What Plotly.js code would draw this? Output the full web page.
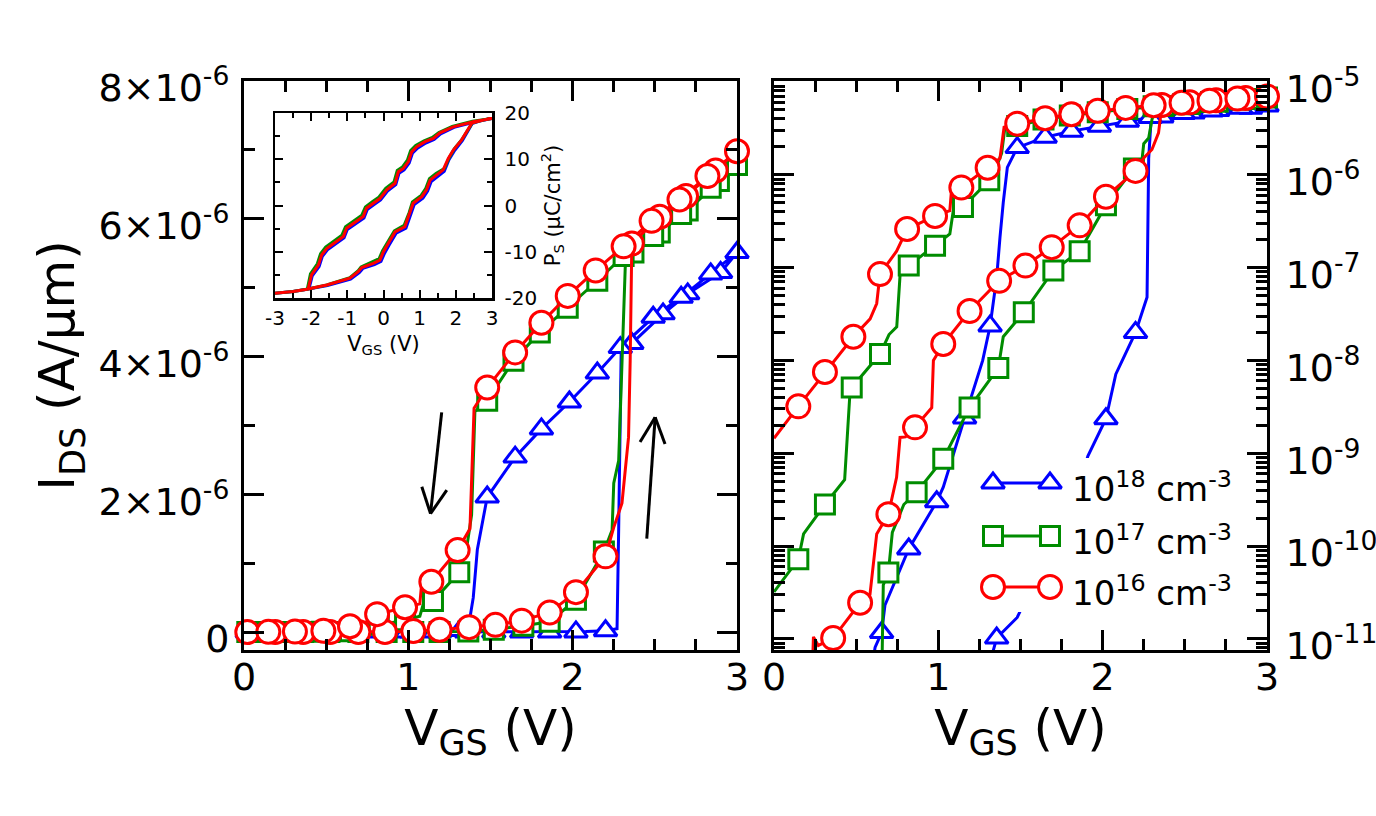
<!DOCTYPE html>
<html><head><meta charset="utf-8">
<script src="https://cdn.plot.ly/plotly-3.0.1.min.js"></script>
<style>html,body{margin:0;padding:0;background:#fff;}#chart{width:1376px;height:816px;}</style>
</head><body><div id="chart"></div>
<script>
// ---------- DATA (I_DS in A/um vs V_GS in V; each curve = forward sweep 0->3 V then backward 3->0 V) ----------
const seriesNames = ['10<sup>18</sup> cm<sup>-3</sup>', '10<sup>17</sup> cm<sup>-3</sup>', '10<sup>16</sup> cm<sup>-3</sup>'];

// 10^18 cm^-3 (blue)
const blueCurveX = [0.00,0.02,0.19,0.36,0.52,0.69,0.86,1.02,1.19,1.33,1.355,1.48,1.52,1.69,1.86,1.91,2.02,2.08,2.20,2.27,2.28,2.295,2.36,2.55,2.70,2.90,3.00,
  2.84,2.66,2.49,2.29,2.15,1.98,1.81,1.65,1.48,1.42,1.395,1.375,1.355,1.315,1.27,1.16,1.03,0.99,0.82,0.675,0.655,0.615,0.58,0.48,0.31,0.148,0.00];
const blueCurveY = [1e-13,1e-13,1e-13,1e-13,1e-13,1e-13,1e-13,1e-13,2e-13,7e-12,1.02e-11,1.7e-11,2.4e-11,1.0e-10,4.8e-10,9.3e-10,2.35e-9,7.1e-9,2.0e-8,4.8e-8,1.5e-6,4.05e-6,4.19e-6,4.62e-6,4.91e-6,5.22e-6,5.51e-6,
  5.20e-6,4.86e-6,4.57e-6,4.13e-6,3.76e-6,3.34e-6,2.95e-6,2.54e-6,1.96e-6,1.2e-6,5.0e-7,2.1e-7,7.8e-8,2.35e-8,1.0e-8,2.4e-9,4.3e-10,3.0e-10,9.3e-11,2.3e-11,1.17e-11,8.1e-12,3e-12,1e-12,5e-13,3e-13,2e-13];
const blueMarkX = [0.02,0.19,0.36,0.52,0.69,0.86,1.02,1.19,1.355,1.52,1.69,1.86,2.02,2.20,2.36,2.55,2.70,2.90,3.00,
  2.84,2.66,2.49,2.29,2.15,1.98,1.81,1.65,1.48,1.315,1.16,0.99,0.82,0.655,0.48,0.31,0.148];
const blueMarkY = [1e-13,1e-13,1e-13,1e-13,1e-13,1e-13,1e-13,2e-13,1.02e-11,2.4e-11,1.0e-10,4.8e-10,2.35e-9,2.0e-8,4.19e-6,4.62e-6,4.91e-6,5.22e-6,5.51e-6,
  5.20e-6,4.86e-6,4.57e-6,4.13e-6,3.76e-6,3.34e-6,2.95e-6,2.54e-6,1.96e-6,2.35e-8,2.4e-9,3.0e-10,9.3e-11,1.17e-11,1e-12,5e-13,3e-13];

// 10^17 cm^-3 (green)
const greenCurveX = [0.00,0.02,0.19,0.36,0.52,0.655,0.665,0.696,0.72,0.79,0.868,1.03,1.19,1.365,1.395,1.52,1.70,1.86,2.02,2.19,2.24,2.25,2.28,2.30,2.32,2.37,2.53,2.70,2.89,3.00,
  2.84,2.66,2.49,2.31,2.15,1.97,1.80,1.64,1.48,1.405,1.385,1.36,1.31,1.15,1.09,1.07,0.98,0.82,0.77,0.747,0.70,0.645,0.473,0.462,0.43,0.38,0.31,0.18,0.148,0.00];
const greenCurveY = [1e-12,1e-12,1e-12,1.5e-12,2e-12,3e-12,3.8e-11,5.2e-11,1.4e-10,2.8e-10,3.8e-10,8.7e-10,3.1e-9,8.3e-9,1.8e-8,3.3e-8,9.3e-8,1.5e-7,4.7e-7,1.17e-6,1.48e-6,2.16e-6,2.49e-6,3.94e-6,5.3e-6,5.51e-6,5.80e-6,6.12e-6,6.55e-6,6.78e-6,
  6.45e-6,6.07e-6,5.75e-6,5.46e-6,5.10e-6,4.71e-6,4.35e-6,3.94e-6,3.36e-6,3.2e-6,1.7e-6,1.3e-6,8.7e-7,4.5e-7,4.0e-7,2.3e-7,1.72e-7,1.05e-7,1.0e-7,2.3e-8,1.9e-8,1.17e-8,5.1e-9,4.4e-9,5.2e-10,4.0e-10,2.8e-10,1.35e-10,7.2e-11,3.2e-11];
const greenMarkX = [0.02,0.19,0.36,0.52,0.696,0.868,1.03,1.19,1.365,1.52,1.70,1.86,2.02,2.19,2.37,2.53,2.70,2.89,3.00,
  2.84,2.66,2.49,2.31,2.15,1.97,1.80,1.64,1.48,1.31,1.15,0.98,0.82,0.645,0.473,0.31,0.148];
const greenMarkY = [1e-12,1e-12,1.5e-12,2e-12,5.2e-11,3.8e-10,8.7e-10,3.1e-9,8.3e-9,3.3e-8,9.3e-8,1.5e-7,4.7e-7,1.17e-6,5.51e-6,5.80e-6,6.12e-6,6.55e-6,6.78e-6,
  6.45e-6,6.07e-6,5.75e-6,5.46e-6,5.10e-6,4.71e-6,4.35e-6,3.94e-6,3.36e-6,8.7e-7,4.5e-7,1.72e-7,1.05e-7,1.17e-8,5.1e-9,2.8e-10,7.2e-11];

// 10^16 cm^-3 (red)
const redCurveX = [0.00,0.02,0.19,0.23,0.24,0.27,0.36,0.524,0.584,0.625,0.696,0.746,0.767,0.80,0.858,0.96,0.97,1.03,1.19,1.37,1.53,1.69,1.86,2.02,2.20,2.25,2.30,2.34,2.35,2.36,2.53,2.69,2.87,3.00,
  2.82,2.65,2.48,2.31,2.14,1.97,1.81,1.65,1.48,1.40,1.375,1.30,1.14,1.08,1.07,0.98,0.81,0.746,0.645,0.625,0.585,0.483,0.42,0.31,0.148,0.00];
const redCurveY = [2e-12,2.5e-12,4e-12,3e-12,1.05e-11,8.5e-12,1.02e-11,2.45e-11,3.0e-11,1.35e-10,2.2e-10,5.5e-10,1.48e-9,1.5e-9,1.9e-9,3.1e-9,1.0e-8,1.5e-8,3.4e-8,7.2e-8,1.05e-7,1.66e-7,2.85e-7,5.8e-7,1.10e-6,1.52e-6,1.87e-6,2.83e-6,3.94e-6,5.64e-6,6.03e-6,6.33e-6,6.70e-6,6.98e-6,
  6.62e-6,6.28e-6,5.97e-6,5.60e-6,5.25e-6,4.88e-6,4.49e-6,4.06e-6,3.55e-6,3.25e-6,1.50e-6,1.19e-6,7.3e-7,6.8e-7,4.1e-7,3.6e-7,2.6e-7,1.5e-7,8.5e-8,4.1e-8,2.8e-8,1.8e-8,1.3e-8,7.5e-9,3.2e-9,1.45e-9];
const redMarkX = [0.02,0.19,0.36,0.524,0.696,0.858,1.03,1.19,1.37,1.53,1.69,1.86,2.02,2.20,2.36,2.53,2.69,2.87,3.00,
  2.82,2.65,2.48,2.31,2.14,1.97,1.81,1.65,1.48,1.30,1.14,0.98,0.81,0.645,0.483,0.31,0.148];
const redMarkY = [2.5e-12,4e-12,1.02e-11,2.45e-11,2.2e-10,1.9e-9,1.5e-8,3.4e-8,7.2e-8,1.05e-7,1.66e-7,2.85e-7,5.8e-7,1.10e-6,5.64e-6,6.03e-6,6.33e-6,6.70e-6,6.98e-6,
  6.62e-6,6.28e-6,5.97e-6,5.60e-6,5.25e-6,4.88e-6,4.49e-6,4.06e-6,3.55e-6,1.19e-6,7.3e-7,3.6e-7,2.6e-7,8.5e-8,1.8e-8,7.5e-9,3.2e-9];

// Inset: polarization P_S (uC/cm^2) vs V_GS (V), hysteresis loops
const insetRedX = [-3.0,-2.5,-2.12,-1.57,-0.93,-0.70,-0.60,-0.28,-0.10,0.0,0.13,0.32,0.59,0.73,0.82,1.06,1.19,1.29,1.47,1.65,1.79,1.93,2.16,2.30,2.44,2.76,3.0,
  2.48,1.93,1.56,1.38,1.15,0.92,0.78,0.69,0.55,0.41,0.32,0.09,-0.10,-0.28,-0.47,-0.56,-0.83,-1.02,-1.11,-1.39,-1.57,-1.71,-1.80,-1.99,-2.03,-2.08,-2.12,-2.5,-3.0];
const insetRedY = [-19.0,-18.6,-18.1,-17.2,-15.7,-14.3,-13.4,-12.5,-11.8,-10.0,-8.2,-5.7,-4.6,-1.7,0.5,1.9,3.4,5.5,6.6,7.7,10.2,12.0,14.2,16.0,17.8,18.5,18.8,
  18.1,17.0,15.7,14.5,13.8,12.7,11.6,9.5,8.0,7.3,4.8,3.4,1.5,0.5,-0.6,-2.4,-3.9,-4.9,-6.7,-8.2,-9.3,-10.7,-12.9,-15.0,-16.5,-17.9,-18.1,-18.6,-19.0];
const insetGreenX = [-3.0,-2.5,-2.12,-1.57,-0.93,-0.70,-0.62,-0.30,-0.12,-0.03,0.10,0.30,0.57,0.71,0.80,1.04,1.17,1.27,1.45,1.68,1.82,1.96,2.18,2.32,2.46,2.76,3.0,
  2.46,1.90,1.53,1.35,1.12,0.89,0.75,0.66,0.52,0.38,0.29,0.06,-0.13,-0.31,-0.50,-0.60,-0.86,-1.05,-1.15,-1.42,-1.60,-1.74,-1.83,-2.02,-2.06,-2.10,-2.13,-2.5,-3.0];
const insetGreenY = [-19.0,-18.6,-18.1,-17.2,-15.6,-14.1,-13.3,-12.2,-11.5,-9.8,-8.0,-5.5,-4.3,-1.5,0.8,2.2,3.7,5.8,6.9,8.0,10.4,12.3,14.4,16.2,17.9,18.5,18.8,
  18.2,17.1,15.8,14.7,14.0,13.0,11.9,9.8,8.3,7.6,5.1,3.7,1.8,0.8,-0.3,-2.1,-3.6,-4.6,-6.4,-7.9,-9.0,-10.4,-12.6,-14.8,-16.3,-17.8,-18.1,-18.6,-19.0];
const insetBlueX = [-3.0,-2.5,-2.11,-1.55,-0.91,-0.67,-0.57,-0.25,-0.07,0.03,0.16,0.35,0.62,0.76,0.85,1.09,1.22,1.32,1.50,1.68,1.81,1.95,2.18,2.31,2.45,2.76,3.0,
  2.49,1.95,1.58,1.40,1.17,0.94,0.80,0.71,0.57,0.43,0.34,0.11,-0.08,-0.26,-0.45,-0.54,-0.81,-1.00,-1.09,-1.37,-1.55,-1.69,-1.78,-1.97,-2.01,-2.06,-2.11,-2.5,-3.0];
const insetBlueY = [-19.0,-18.6,-18.1,-17.3,-15.9,-14.5,-13.6,-12.8,-12.1,-10.3,-8.5,-6.0,-4.9,-2.0,0.2,1.6,3.1,5.2,6.3,7.4,9.9,11.7,14.0,15.8,17.7,18.5,18.8,
  18.0,16.9,15.5,14.3,13.5,12.4,11.3,9.2,7.7,7.0,4.5,3.1,1.2,0.2,-0.9,-2.7,-4.2,-5.2,-7.0,-8.5,-9.6,-11.0,-13.2,-15.2,-16.7,-18.0,-18.1,-18.6,-19.0];

// Axis ticks
const linTickVals = [0, 2e-6, 4e-6, 6e-6, 8e-6];
const linTickText = ['0', '2×10<sup>-6</sup>', '4×10<sup>-6</sup>', '6×10<sup>-6</sup>', '8×10<sup>-6</sup>'];
const logTickVals = [1e-11, 1e-10, 1e-9, 1e-8, 1e-7, 1e-6, 1e-5];
const logTickText = ['10<sup>-11</sup>','10<sup>-10</sup>','10<sup>-9</sup>','10<sup>-8</sup>','10<sup>-7</sup>','10<sup>-6</sup>','10<sup>-5</sup>'];
const insetXTicks = [-3, -2, -1, 0, 1, 2, 3];
const insetYTicks = [-20, -10, 0, 10, 20];

// ---------- LAYOUT / STYLE ----------
const FONT = 'DejaVu Sans';
const BLUE = '#0000ff', GREEN = 'rgb(0,140,0)', RED = '#ff0000';
const L = 244, R = 1267, T = 81, B = 650;
const PW = R - L, PH = B - T;
const dX = (a, b) => [(a - L) / PW, (b - L) / PW];
const dY = (top, bot) => [(B - bot) / PH, (B - top) / PH];
const LOG_RANGE = [-11.12, -4.99];

const styles = [
  {color: BLUE, symbol: 'triangle-up', size: 20},
  {color: GREEN, symbol: 'square', size: 19},
  {color: RED, symbol: 'circle', size: 23}
];
const curves = [
  [blueCurveX, blueCurveY, blueMarkX, blueMarkY],
  [greenCurveX, greenCurveY, greenMarkX, greenMarkY],
  [redCurveX, redCurveY, redMarkX, redMarkY]
];

const traces = [];
function addPanel(xa, ya, isLog) {
  curves.forEach((c, i) => {
    const s = styles[i];
    traces.push({x: c[0], y: c[1], xaxis: xa, yaxis: ya, mode: 'lines', type: 'scatter',
      line: {color: s.color, width: 3}, showlegend: false, hoverinfo: 'skip'});
    let mx = c[2], my = c[3];
    if (isLog) {
      const lo = Math.pow(10, LOG_RANGE[0]);
      const keep = my.map(v => v >= lo);
      mx = mx.filter((v, k) => keep[k]); my = my.filter((v, k) => keep[k]);
    }
    traces.push({x: mx, y: my, xaxis: xa, yaxis: ya, mode: 'markers', type: 'scatter', cliponaxis: false,
      marker: {symbol: s.symbol, size: s.size, color: '#ffffff', line: {color: s.color, width: 3}},
      showlegend: false, hoverinfo: 'skip'});
  });
}
addPanel('x', 'y', false);
addPanel('x2', 'y2', true);

// inset loops
[[insetBlueX, insetBlueY, BLUE], [insetGreenX, insetGreenY, GREEN], [insetRedX, insetRedY, RED]].forEach(d => {
  traces.push({x: d[0], y: d[1], xaxis: 'x3', yaxis: 'y3', mode: 'lines', type: 'scatter',
    line: {color: d[2], width: 3}, showlegend: false, hoverinfo: 'skip'});
});

// legend box (white, hides curves) + legend samples
traces.push({x: [0, 1, 1, 0, 0], y: [0, 0, 1, 1, 0], xaxis: 'x4', yaxis: 'y4', mode: 'lines', fill: 'toself',
  fillcolor: '#ffffff', line: {width: 0, color: 'rgba(0,0,0,0)'}, showlegend: false, hoverinfo: 'skip'});
const legRowsPx = [483, 536, 587];
const legBox = {x0: 968, x1: 1235, top: 458, bot: 612};
const legY = legRowsPx.map(p => (legBox.bot - p) / (legBox.bot - legBox.top));
const legX = [(993 - legBox.x0) / (legBox.x1 - legBox.x0), (1050 - legBox.x0) / (legBox.x1 - legBox.x0)];
const annotations = [];
styles.forEach((s, i) => {
  traces.push({x: legX, y: [legY[i], legY[i]], xaxis: 'x4', yaxis: 'y4', mode: 'lines+markers', type: 'scatter', cliponaxis: false,
    line: {color: s.color, width: 3},
    marker: {symbol: s.symbol, size: s.size, color: '#ffffff', line: {color: s.color, width: 3}},
    showlegend: false, hoverinfo: 'skip'});
  annotations.push({xref: 'x4', yref: 'y4', x: (1070 - legBox.x0) / (legBox.x1 - legBox.x0), y: legY[i] - 0.025,
    xanchor: 'left', yanchor: 'middle', text: seriesNames[i], showarrow: false,
    font: {family: FONT, size: 34, color: '#000'}});
});

function frameAxis(extra) {
  return Object.assign({
    showgrid: false, zeroline: false, showline: true, linecolor: '#000', linewidth: 3,
    mirror: 'ticks', ticks: 'inside', ticklen: 20, tickwidth: 3, tickcolor: '#000',
    tickfont: {family: FONT, size: 38, color: '#000'}, fixedrange: true
  }, extra);
}
const xMinor = {ticks: 'inside', ticklen: 11, tickwidth: 3, tickcolor: '#000', tickmode: 'linear', tick0: 0, dtick: 0.25};
const logMinorVals = [];
for (let e = -12; e <= -5; e++) for (let k = 2; k <= 9; k++) logMinorVals.push(k * Math.pow(10, e));

const titleFont = {family: FONT, size: 50, color: '#000'};
const insetFont = {family: FONT, size: 20, color: '#000'};
const layout = {
  width: 1376, height: 816,
  margin: {l: L, r: 1376 - R, t: T, b: 816 - B, pad: 0},
  paper_bgcolor: '#ffffff', plot_bgcolor: 'rgba(0,0,0,0)',
  showlegend: false,
  font: {family: FONT, color: '#000'},
  xaxis: frameAxis({domain: dX(244, 737), anchor: 'y', range: [0, 3], tickmode: 'linear', tick0: 0, dtick: 1,
    minor: xMinor, ticklabelstandoff: -9,
    title: {text: 'V<sub>GS</sub> (V)', font: titleFont, standoff: 2}}),
  yaxis: frameAxis({domain: [0, 1], anchor: 'x', range: [-0.26e-6, 8e-6], tickmode: 'array',
    tickvals: linTickVals, ticktext: linTickText, ticklabelstandoff: 4, ticklabelshift: 7,
    minor: {ticks: 'inside', ticklen: 11, tickwidth: 3, tickcolor: '#000', tickmode: 'linear', tick0: 0, dtick: 1e-6},
    title: {text: 'I<sub>DS</sub> (A/μm)', font: titleFont, standoff: 8}}),
  xaxis2: frameAxis({domain: dX(774, 1267), anchor: 'y2', range: [0, 3], tickmode: 'linear', tick0: 0, dtick: 1,
    minor: xMinor, ticklabelstandoff: -9,
    title: {text: 'V<sub>GS</sub> (V)', font: titleFont, standoff: 2}}),
  yaxis2: frameAxis({domain: [0, 1], anchor: 'x2', type: 'log', range: LOG_RANGE, side: 'right',
    tickmode: 'array', tickvals: logTickVals, ticktext: logTickText, ticklabelstandoff: 8, ticklabelshift: 7,
    minor: {ticks: 'inside', ticklen: 11, tickwidth: 3, tickcolor: '#000', tickmode: 'array', tickvals: logMinorVals}}),
  xaxis3: frameAxis({domain: dX(275, 492), anchor: 'y3', range: [-3, 3], tickmode: 'array',
    tickvals: insetXTicks, ticktext: insetXTicks.map(String),
    linewidth: 2.5, ticklen: 8, tickwidth: 2, tickfont: insetFont, ticklabelstandoff: 0,
    minor: {ticks: 'inside', ticklen: 5, tickwidth: 2, tickcolor: '#000', tickmode: 'linear', tick0: 0, dtick: 0.5},
    title: {text: 'V<sub>GS</sub> (V)', font: {family: FONT, size: 21, color: '#000'}, standoff: 8}}),
  yaxis3: frameAxis({domain: dY(113, 298), anchor: 'x3', range: [-20, 20], side: 'right', tickmode: 'array',
    tickvals: insetYTicks, ticktext: insetYTicks.map(String),
    linewidth: 2.5, ticklen: 8, tickwidth: 2, tickfont: insetFont, ticklabelstandoff: 6,
    minor: {ticks: 'inside', ticklen: 5, tickwidth: 2, tickcolor: '#000', tickmode: 'linear', tick0: 0, dtick: 5},
    title: {text: 'P<sub>S</sub> (μC/cm<sup>2</sup>)', font: {family: FONT, size: 21, color: '#000'}, standoff: 6}}),
  xaxis4: {domain: dX(legBox.x0, legBox.x1), anchor: 'y4', range: [0, 1], visible: false, fixedrange: true},
  yaxis4: {domain: dY(legBox.top, legBox.bot), anchor: 'x4', range: [0, 1], visible: false, fixedrange: true},
  annotations: annotations,
  shapes: [
    // sweep-direction arrows (left panel, data coordinates)
    {type: 'line', xref: 'x', yref: 'y', x0: 1.203, y0: 3.19e-6, x1: 1.135, y1: 1.72e-6, line: {color: '#000', width: 3}},
    {type: 'line', xref: 'x', yref: 'y', x0: 1.082, y0: 2.11e-6, x1: 1.135, y1: 1.72e-6, line: {color: '#000', width: 3}},
    {type: 'line', xref: 'x', yref: 'y', x0: 1.234, y0: 2.06e-6, x1: 1.135, y1: 1.72e-6, line: {color: '#000', width: 3}},
    {type: 'line', xref: 'x', yref: 'y', x0: 2.451, y0: 1.357e-6, x1: 2.502, y1: 3.12e-6, line: {color: '#000', width: 3}},
    {type: 'line', xref: 'x', yref: 'y', x0: 2.41, y0: 2.76e-6, x1: 2.502, y1: 3.12e-6, line: {color: '#000', width: 3}},
    {type: 'line', xref: 'x', yref: 'y', x0: 2.562, y0: 2.73e-6, x1: 2.502, y1: 3.12e-6, line: {color: '#000', width: 3}}
  ]
};
Plotly.newPlot('chart', traces, layout, {displayModeBar: false, staticPlot: true});
</script>
</body></html>
